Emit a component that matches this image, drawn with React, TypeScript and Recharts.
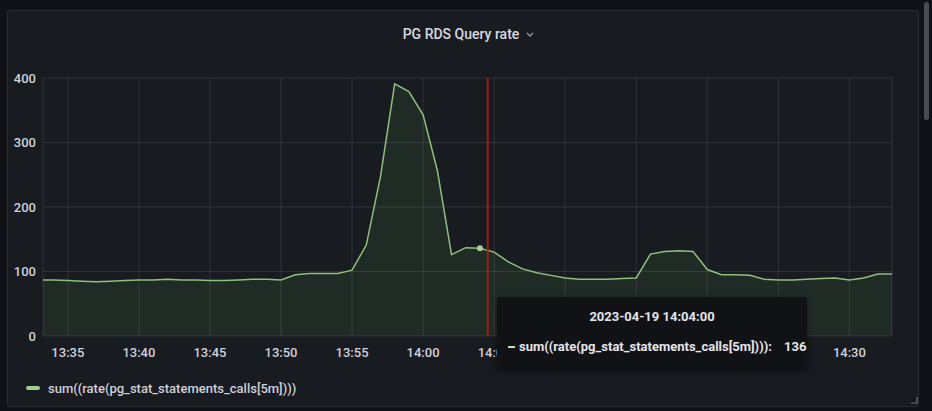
import React from 'react';
import { AreaChart, Area, XAxis, YAxis, CartesianGrid, Tooltip, ReferenceLine, Legend } from 'recharts';

// minutes after 13:00
const minutes = [
  33, 34, 35, 36, 37, 38, 39, 40, 41, 42, 43, 44, 45, 46, 47, 48, 49, 50, 51, 52,
  53, 54, 55, 56, 57, 58, 59, 60, 61, 62, 63, 64, 65, 66, 67, 68, 69, 70, 71, 72,
  73, 74, 75, 76, 77, 78, 79, 80, 81, 82, 83, 84, 85, 86, 87, 88, 89, 90, 91, 92, 93,
];
const queryRate = [
  87, 87, 86, 85, 84, 85, 86, 87, 87, 88, 87, 87, 86, 86, 87, 88, 88, 87, 95, 97,
  97, 97, 102, 141, 247, 391, 379, 343, 257, 126, 137, 136, 130, 115, 104, 98, 94, 90, 88, 88,
  88, 89, 90, 127, 131, 132, 131, 103, 95, 95, 94, 88, 87, 87, 88, 89, 90, 87, 90, 96, 96,
];
const xTicks = [35, 40, 45, 50, 55, 60, 65, 70, 75, 80, 85, 90];
const yTicks = [0, 100, 200, 300, 400];
const seriesName = 'sum((rate(pg_stat_statements_calls[5m])))';
const panelTitle = 'PG RDS Query rate';
const dateLabel = '2023-04-19';
const annotationMinute = 64.55;
const hoverIndex = 31; // 14:04

const data = minutes.map((m, i) => ({ t: m, v: queryRate[i] }));

const FONT = "Roboto, 'Noto Sans', sans-serif";
const GREEN = '#8fbf7f';
const TEXT = '#d0d0dc';

const fmt = (m: number) => {
  const h = 13 + Math.floor(m / 60);
  const mm = Math.round(m % 60);
  return `${h}:${String(mm).padStart(2, '0')}`;
};

const TooltipBox = (props: any) => {
  const { active, payload } = props;
  if (!active || !payload || !payload.length) return null;
  const p = payload[0];
  return (
    <div
      style={{
        width: 310,
        height: 72,
        boxSizing: 'border-box',
        background: '#111215',
        borderRadius: 3,
        boxShadow: '0 2px 6px rgba(0,0,0,0.5)',
        color: '#e4e4ea',
        fontFamily: FONT,
        fontWeight: 700,
        fontSize: 13,
      }}
    >
      <div style={{ textAlign: 'center', paddingTop: 12, lineHeight: '16px' }}>
        {dateLabel} {fmt(p.payload.t)}:00
      </div>
      <div style={{ display: 'flex', alignItems: 'center', marginTop: 14, paddingLeft: 11, lineHeight: '16px' }}>
        <span style={{ display: 'inline-block', width: 7, height: 2, background: '#c9dcc0', marginRight: 4 }} />
        <span>{seriesName}:</span>
        <span style={{ marginLeft: 12 }}>{p.value}</span>
      </div>
    </div>
  );
};

const LegendBox = () => (
  <div style={{ display: 'flex', alignItems: 'center', height: 20, fontFamily: FONT, fontSize: 13, fontWeight: 500, color: TEXT }}>
    <span style={{ display: 'inline-block', width: 14, height: 4, borderRadius: 2, background: '#9fcf8f', marginRight: 8 }} />
    <span>{seriesName}</span>
  </div>
);

export default function App() {
  return (
    <div style={{ position: 'absolute', left: 0, top: 0, width: 932, height: 411, background: '#111217', overflow: 'hidden' }}>
      <div
        style={{
          position: 'absolute',
          left: 7,
          top: 10,
          width: 912,
          height: 397,
          boxSizing: 'border-box',
          background: '#181b1f',
          border: '1px solid rgba(204,204,220,0.10)',
          borderRadius: 3,
        }}
      />
      <div style={{ position: 'absolute', left: 924, top: 2, width: 5, height: 118, borderRadius: 3, background: '#4a4b51' }} />
      <div
        style={{
          position: 'absolute',
          left: 10,
          top: 25,
          width: 918,
          textAlign: 'center',
          fontFamily: FONT,
          fontWeight: 500,
          fontSize: 14,
          color: '#d8d9e0',
          lineHeight: '18px',
        }}
      >
        {panelTitle}
        <svg width="10" height="8" style={{ marginLeft: 6, verticalAlign: 'middle' }}>
          <polyline points="2,2 5,5 8,2" fill="none" stroke="#9a9aa5" strokeWidth="1.3" />
        </svg>
      </div>
      <svg width="8" height="8" style={{ position: 'absolute', left: 910, top: 396 }}>
        <polyline points="1,7 7,7 7,1" fill="none" stroke="#6e6f75" strokeWidth="1.2" />
      </svg>
      <div style={{ position: 'absolute', left: 0, top: 0 }}>
        <AreaChart width={932} height={411} data={data} margin={{ top: 78, right: 40, left: 8, bottom: 13 }}>
          <CartesianGrid stroke="rgba(204,204,220,0.13)" vertical horizontal />
          <XAxis
            dataKey="t"
            type="number"
            domain={[33.25, 93]}
            allowDataOverflow
            ticks={xTicks}
            interval={0}
            tickFormatter={fmt}
            axisLine={false}
            tickLine={false}
            tickSize={0}
            tickMargin={12}
            height={42}
            tick={{ fill: TEXT, fontSize: 13, fontWeight: 500, fontFamily: FONT }}
          />
          <YAxis
            type="number"
            domain={[0, 400]}
            ticks={yTicks}
            interval={0}
            width={35}
            axisLine={false}
            tickLine={false}
            tickSize={0}
            tickMargin={7}
            tick={{ fill: TEXT, fontSize: 13, fontWeight: 500, fontFamily: FONT }}
          />
          <ReferenceLine x={annotationMinute} stroke="#9a1d1d" strokeWidth={2} />
          <Area
            type="linear"
            dataKey="v"
            name={seriesName}
            stroke={GREEN}
            strokeWidth={1.5}
            fill="#73bf69"
            fillOpacity={0.1}
            dot={false}
            activeDot={{ r: 3, fill: '#a8d09a', stroke: 'none' }}
            isAnimationActive={false}
          />
          <Legend
            verticalAlign="bottom"
            align="left"
            height={20}
            content={<LegendBox />}
            wrapperStyle={{ left: 26, bottom: 13, width: 400 }}
          />
          <Tooltip
            active
            defaultIndex={hoverIndex}
            cursor={false}
            position={{ x: 497, y: 297 }}
            content={<TooltipBox />}
            isAnimationActive={false}
            wrapperStyle={{ zIndex: 10 }}
          />
        </AreaChart>
      </div>
    </div>
  );
}
